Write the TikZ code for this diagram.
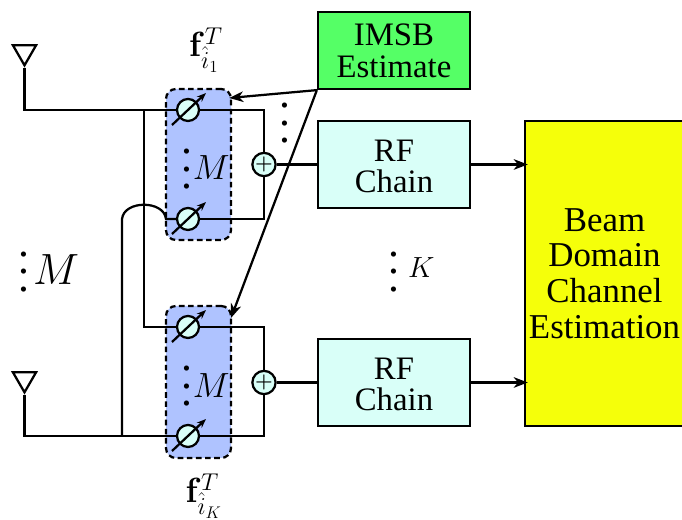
\documentclass[tikz,border=0pt]{standalone}
\usepackage[no-math]{fontspec}
\setmainfont{Liberation Serif}
\usetikzlibrary{shapes.geometric,arrows.meta}
\definecolor{boxgreen}{RGB}{85,255,102}
\definecolor{boxcyan}{RGB}{217,255,248}
\definecolor{boxblue}{RGB}{175,195,255}
\definecolor{boxyellow}{RGB}{245,255,10}
\tikzset{
  wire/.style={line width=1.6pt},
  bigtip/.style={-{Stealth[length=10pt,width=7.5pt,inset=3pt]}},
  smalltip/.style={-{Stealth[length=6.5pt,width=5pt,inset=2pt]}},
  block/.style={draw,line width=1.6pt,inner sep=0pt,align=center,minimum width=3.8cm,font=\fontsize{23.3}{22.7}\selectfont},
  group/.style={draw,dash pattern=on 4pt off 2.5pt,fill=boxblue,line width=1.6pt,rounded corners=7pt,minimum width=1.625cm,inner sep=0pt},
  shifter/.style={draw,circle,fill=boxcyan,line width=1.6pt,minimum size=0.55cm,inner sep=0pt},
  adder/.style={draw,circle,fill=boxcyan,line width=1.6pt,minimum size=0.55cm,inner sep=0pt,font=\fontsize{13.5}{13.5}\selectfont\boldmath},
  antenna/.style={draw,regular polygon,regular polygon sides=3,shape border rotate=180,line width=1.6pt,minimum size=19pt,inner sep=0pt},
  manydots/.style={scale=3.1,inner sep=0pt},
}
\begin{document}
\begin{tikzpicture}
\useasboundingbox (0,0) rectangle (17.05,13);
% blocks
\node[block,fill=boxgreen,minimum height=1.925cm] (imsb) at (9.85,11.7375) {IMSB\\Estimate};
\node[block,fill=boxcyan,minimum height=2.175cm] (rf1) at (9.85,8.8875) {\rule{0pt}{18pt}RF\\Chain};
\node[block,fill=boxcyan,minimum height=2.175cm] (rf2) at (9.85,3.4375) {\rule{0pt}{18pt}RF\\Chain};
\node[block,fill=boxyellow,line width=2pt,minimum width=3.975cm,minimum height=7.625cm,font=\fontsize{24.8}{25.4}\selectfont] (bdce) at (15.1125,6.1625) {Beam\\Domain\\Channel\\Estimation};
\node[group,minimum height=3.775cm] (grp1) at (4.9625,8.8875) {};
\node[group,minimum height=3.8cm] (grp2) at (4.9625,3.45) {};
% phase shifters and adders
\node[shifter] (ps1) at (4.7,10.25) {};
\node[shifter] (ps2) at (4.7,7.525) {};
\node[shifter] (ps3) at (4.7,4.825) {};
\node[shifter] (ps4) at (4.7,2.1) {};
\node[adder] (add1) at (6.6,8.8875) {$+$};
\node[adder] (add2) at (6.6,3.4375) {$+$};
\foreach \ps in {ps1,ps2,ps3,ps4}
  \draw[wire,smalltip] ([shift={(-0.4,-0.375)}]\ps.center) -- ([shift={(0.45,0.425)}]\ps.center);
% antennas
\node[antenna] (ant1) at (0.6125,11.7) {};
\node[antenna] (ant2) at (0.6125,3.525) {};
\coordinate (tap1) at (3.6,10.25);
\coordinate (tap2) at (3.05,2.1);
\coordinate (hop1) at (3.05,7.525);
\coordinate (hop2) at (4.15,7.525);
\draw[wire] (ant1.corner 1) |- (ps1);
\draw[wire] (ant2.corner 1) |- (ps4);
\draw[wire] (tap1) |- (ps3);
\draw[wire] (tap2) -- (hop1) .. controls (3.1,8) and (4.1,8) .. (hop2) -- (ps2);
\draw[wire] (ps1) -| (add1);
\draw[wire] (ps2) -| (add1);
\draw[wire] (ps3) -| (add2);
\draw[wire] (ps4) -| (add2);
\draw[wire] (add1) -- (rf1);
\draw[wire] (add2) -- (rf2);
\draw[wire,bigtip,shorten >=-3pt] (rf1) -- (rf1 -| bdce.west);
\draw[wire,bigtip,shorten >=-3pt] (rf2) -- (rf2 -| bdce.west);
% control lines
\coordinate (tip1) at (5.73,10.55);
\coordinate (tip2) at (5.775,5.05);
\draw[wire,bigtip] (imsb.south west) -- (tip1);
\draw[wire,bigtip] (imsb.south west) -- (tip2);
% labels
\node[font=\fontsize{24}{24}\selectfont] (lab1) at (5.15,11.75) {$\mathbf{f}_{\hat{i}_1}^{T}$};
\node[font=\fontsize{24}{24}\selectfont] (lab2) at (5.1,0.6) {$\mathbf{f}_{\hat{i}_K}^{T}$};
\node[manydots] (dots1) at (7.125,10.25) {$\vdots$};
\node[manydots] (dots2) at (4.675,9.1) {$\vdots$};
\node[manydots] (dots3) at (4.675,3.67) {$\vdots$};
\node[manydots] (dots4) at (0.6,6.53) {$\vdots$};
\node[manydots] (dots5) at (9.85,6.53) {$\vdots$};
\node[font=\fontsize{24}{24}\selectfont] (m1) at (5.28,8.8) {$M$};
\node[font=\fontsize{24}{24}\selectfont] (m2) at (5.28,3.37) {$M$};
\node[font=\fontsize{24}{24}\selectfont,scale=1.25] (m3) at (1.4,6.25) {$M$};
\node[font=\fontsize{20}{20}\selectfont] (k1) at (10.53,6.3) {$K$};
\end{tikzpicture}
\end{document}
